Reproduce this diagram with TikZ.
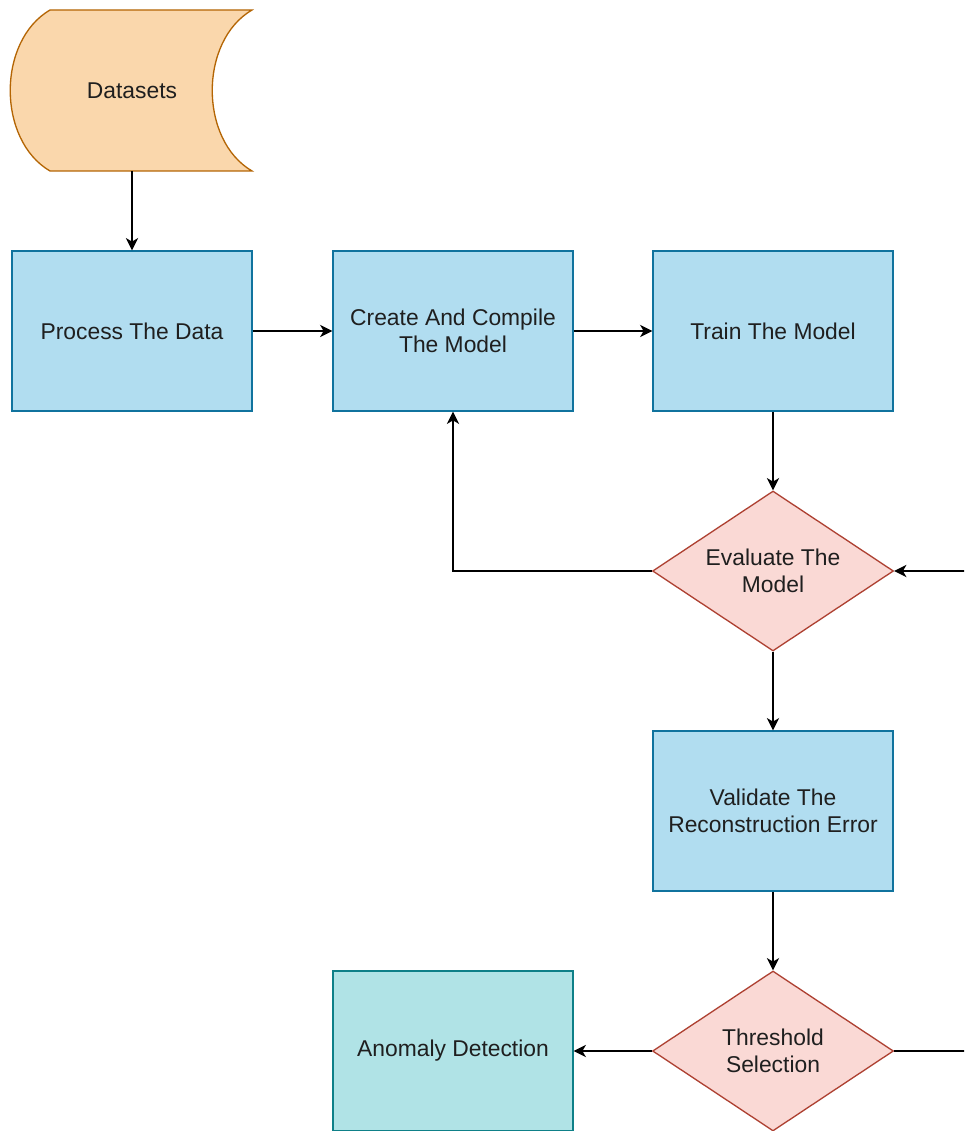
\documentclass[tikz,border=0pt]{standalone}
\usepackage{fontspec}
\setmainfont{Liberation Sans}
\usepackage{xcolor}
\usetikzlibrary{shapes.geometric,arrows.meta}

\definecolor{boxfill}{HTML}{B1DDF0}
\definecolor{boxline}{HTML}{10739E}
\definecolor{decfill}{HTML}{FAD9D5}
\definecolor{decline}{HTML}{AE4132}
\definecolor{datfill}{HTML}{FAD7AC}
\definecolor{datline}{HTML}{B46504}
\definecolor{endfill}{HTML}{B0E3E6}
\definecolor{endline}{HTML}{0E8088}

\tikzset{
  txt/.style={text=black!88, font=\fontsize{13}{15.6}\selectfont, align=center},
  stepbox/.style={txt, draw=boxline, fill=boxfill, line width=0.75pt, minimum width=4.8cm, minimum height=3.2cm, inner sep=0pt},
  decision/.style={txt, diamond, draw=decline, fill=decfill, line width=0.75pt, shape aspect=1.5, minimum width=4.82cm, minimum height=3.2cm, inner sep=0pt},
  endbox/.style={stepbox, draw=endline, fill=endfill},
  flow/.style={black, line width=0.85pt, -{Stealth[length=7pt, width=7pt, inset=2pt]}}
}

\begin{document}
\begin{tikzpicture}[x=0.02cm, y=-0.02cm]
    \useasboundingbox (0, 0) rectangle (964, 1131);
    \clip (0, 0) rectangle (964, 1131);
    \fill[white] (0, 0) rectangle (964, 1131);
    \draw[datline, fill=datfill, line width=0.75pt] (50, 10) -- (252, 10)
        .. controls (199, 41) and (199, 140) .. (252, 171) -- (50, 171)
        .. controls (-3, 140) and (-3, 41) .. (50, 10) -- cycle;
    \node[txt, minimum width=4.84cm, minimum height=3.22cm, inner sep=0pt](ds) at (132, 90.5) {Datasets};
    \node[stepbox](proc) at (132, 331) {Process The Data};
    \node[stepbox](cre) at (453, 331) {Create And Compile\\The Model};
    \node[stepbox](train) at (773, 331) {Train The Model};
    \node[decision](eval) at (773, 571) {Evaluate The\\Model};
    \node[stepbox](val) at (773, 811) {Validate The\\Reconstruction Error};
    \node[decision](thr) at (773, 1051) {Threshold\\Selection};
    \node[endbox](anom) at (453, 1051) {Anomaly Detection};
    \coordinate(loop) at (1010, 1051);
    \draw[flow] (ds.south) -- (proc.north);
    \draw[flow] (proc.east) -- (cre.west);
    \draw[flow] (cre.east) -- (train.west);
    \draw[flow] (train.south) -- (eval.north);
    \draw[flow] (eval.west) -| (cre.south);
    \draw[flow] (eval.south) -- (val.north);
    \draw[flow] (val.south) -- (thr.north);
    \draw[flow] (thr.west) -- (anom.east);
    \draw[flow] (thr.east) -- (loop) |- (eval.east);
\end{tikzpicture}
\end{document}
